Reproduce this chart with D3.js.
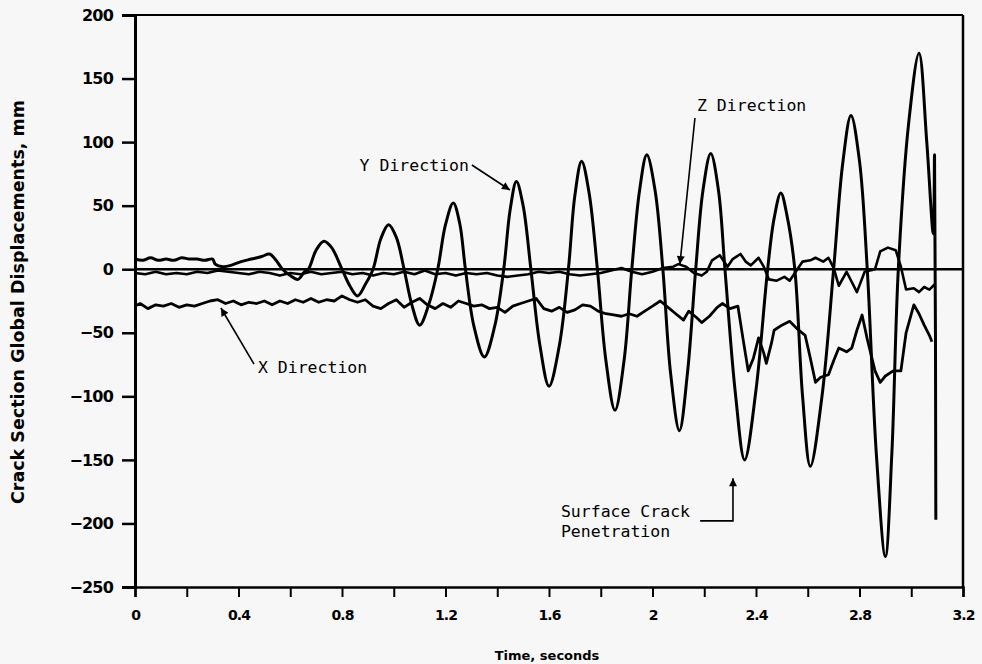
<!DOCTYPE html>
<html>
<head>
<meta charset="utf-8">
<script src="https://cdn.jsdelivr.net/npm/d3@7"></script>
<style>
  body { margin: 0; background: #f7f7f7; }
  svg { display: block; }
  .tick text { font-family: "DejaVu Sans", sans-serif; font-weight: bold; fill: #000; }
  .note { font-family: "DejaVu Sans Mono", monospace; font-size: 16.5px; fill: #000; }
</style>
</head>
<body>
<svg id="chart"></svg>
<script>
// values (time in s, displacement in mm)
var yTicks = [200, 150, 100, 50, 0, -50, -100, -150, -200, -250];
var xTicks = [0, 0.2, 0.4, 0.6, 0.8, 1.0, 1.2, 1.4, 1.6, 1.8, 2.0, 2.2, 2.4, 2.6, 2.8, 3.0, 3.2];
var xLabels = ["0", "", "0.4", "", "0.8", "", "1.2", "", "1.6", "", "2", "", "2.4", "", "2.8", "", "3.2"];

var yDirection = [[0,8],[0.03,7],[0.06,9],[0.09,7],[0.12,8],[0.15,7],[0.18,9],[0.21,8],[0.24,8],[0.27,7],[0.30,8],
  [0.31,4],[0.34,2],[0.37,3],[0.41,6],[0.45,8],[0.49,10],[0.52,12],[0.545,7],[0.57,0],[0.60,-5],[0.63,-8],[0.655,-2],
  [0.67,0],[0.70,15],[0.73,22],[0.76,17],[0.80,0],[0.83,-13],[0.86,-21],[0.89,-12],[0.92,0],[0.95,24],[0.98,35],
  [1.01,25],[1.04,0],[1.07,-28],[1.10,-44],[1.135,-28],[1.17,0],[1.20,35],[1.23,52],[1.255,36],[1.277,0],[1.31,-45],
  [1.35,-69],[1.39,-45],[1.425,0],[1.45,47],[1.474,69],[1.50,50],[1.53,0],[1.565,-60],[1.60,-92],[1.64,-60],[1.675,0],
  [1.70,58],[1.726,85],[1.755,60],[1.787,0],[1.82,-72],[1.855,-111],[1.89,-72],[1.92,0],[1.95,62],[1.978,90],[2.01,62],
  [2.04,0],[2.07,-82],[2.104,-127],[2.135,-82],[2.167,0],[2.195,62],[2.225,91],[2.255,62],[2.28,0],[2.32,-97],
  [2.356,-150],[2.40,-95],[2.445,0],[2.47,40],[2.496,60],[2.52,42],[2.55,0],[2.58,-100],[2.61,-155],[2.655,-100],
  [2.70,0],[2.735,83],[2.767,121],[2.80,85],[2.83,0],[2.865,-145],[2.90,-226],[2.925,-145],[2.95,0],[2.99,115],
  [3.03,170],[3.06,100],[3.085,28],[3.09,90],[3.095,-197]];

var xDirection = [[0,-29],[0.02,-27],[0.05,-31],[0.08,-28],[0.11,-29],[0.14,-27],[0.17,-30],[0.20,-28],[0.23,-29],
  [0.26,-27],[0.29,-25],[0.32,-24],[0.35,-27],[0.38,-25],[0.41,-28],[0.44,-26],[0.47,-27],[0.50,-25],[0.53,-28],
  [0.56,-25],[0.59,-27],[0.62,-24],[0.65,-26],[0.68,-23],[0.71,-26],[0.74,-24],[0.77,-25],[0.80,-21],[0.83,-24],
  [0.86,-26],[0.89,-24],[0.92,-29],[0.95,-31],[0.98,-27],[1.01,-24],[1.04,-30],[1.07,-26],[1.10,-23],[1.13,-28],
  [1.16,-31],[1.19,-27],[1.22,-30],[1.25,-25],[1.28,-27],[1.31,-29],[1.34,-28],[1.37,-31],[1.40,-30],[1.43,-34],
  [1.46,-29],[1.49,-27],[1.52,-25],[1.55,-23],[1.58,-31],[1.61,-33],[1.64,-30],[1.67,-34],[1.70,-32],[1.73,-28],
  [1.76,-29],[1.79,-33],[1.82,-35],[1.85,-36],[1.88,-37],[1.91,-35],[1.94,-37],[1.97,-33],[2.00,-29],[2.03,-25],
  [2.06,-30],[2.09,-35],[2.12,-40],[2.14,-33],[2.17,-38],[2.19,-42],[2.22,-37],[2.25,-30],[2.27,-27],[2.30,-31],
  [2.33,-29],[2.35,-55],[2.37,-80],[2.39,-70],[2.41,-54],[2.43,-66],[2.44,-74],[2.46,-58],[2.47,-48],[2.50,-44],
  [2.53,-41],[2.56,-47],[2.59,-52],[2.61,-70],[2.63,-89],[2.65,-85],[2.68,-83],[2.70,-72],[2.72,-62],[2.75,-65],
  [2.77,-62],[2.79,-48],[2.81,-36],[2.83,-55],[2.86,-80],[2.88,-89],[2.90,-84],[2.93,-80],[2.96,-80],[2.98,-50],
  [3.01,-28],[3.03,-35],[3.05,-44],[3.07,-52],[3.08,-57]];

var zDirection = [[0,-3],[0.04,-4],[0.08,-2],[0.12,-4],[0.16,-3],[0.20,-4],[0.24,-2],[0.28,-3],[0.32,-1],[0.36,-2],
  [0.40,-3],[0.44,-4],[0.48,-2],[0.52,-3],[0.56,-5],[0.60,-3],[0.64,-4],[0.68,-2],[0.72,-4],[0.76,-3],[0.80,-2],
  [0.84,-4],[0.88,-3],[0.92,-5],[0.96,-3],[1.00,-4],[1.04,-2],[1.08,-4],[1.12,-1],[1.16,-4],[1.20,-3],[1.24,-5],
  [1.28,-3],[1.32,-4],[1.36,-3],[1.40,-5],[1.44,-6],[1.48,-5],[1.52,-4],[1.56,-2],[1.60,-3],[1.64,-2],[1.68,-4],
  [1.72,-5],[1.76,-4],[1.80,-3],[1.84,-1],[1.88,1],[1.92,-2],[1.96,-4],[2.00,-2],[2.04,1],[2.08,2],[2.10,4],[2.13,2],
  [2.16,-3],[2.19,-5],[2.21,-2],[2.23,7],[2.26,11],[2.29,2],[2.31,8],[2.34,12],[2.36,6],[2.38,3],[2.41,9],[2.43,2],
  [2.45,-8],[2.48,-9],[2.51,-6],[2.53,-9],[2.56,0],[2.58,6],[2.61,7],[2.63,9],[2.66,6],[2.68,9],[2.70,1],[2.72,-13],
  [2.75,-2],[2.79,-18],[2.82,-2],[2.86,0],[2.88,14],[2.91,17],[2.94,15],[2.96,2],[2.98,-16],[3.01,-15],[3.03,-18],
  [3.05,-14],[3.07,-16],[3.09,-12]];

// annotations: text anchor [t, v] and arrow path [[t, v], ...] (last point = arrow tip)
var notes = [
  { lines: ["Y Direction"], at: [0.868, 77.3], arrow: [[1.302, 82], [1.449, 62.3]] },
  { lines: ["Z Direction"], at: [2.172, 124.5], arrow: [[2.164, 119], [2.106, 4]] },
  { lines: ["X Direction"], at: [0.475, -81.7], arrow: [[0.46, -74.6], [0.332, -30.5]] },
  { lines: ["Surface Crack", "Penetration"], at: [1.646, -195], arrow: [[2.184, -198], [2.311, -198], [2.311, -164.5]] }
];

function chart() {
  var width = 982;
  var height = 664;

  var svg = d3.select("#chart").attr("width", width).attr("height", height);

  var x = d3.scaleLinear().domain([0, 3.2]).range([135, 963]);
  var y = d3.scaleLinear().domain([-250, 200]).range([587, 15]);

  svg.append("defs").append("marker")
    .attr("id", "head")
    .attr("viewBox", "0 0 10 10")
    .attr("refX", 10).attr("refY", 5)
    .attr("markerWidth", 14).attr("markerHeight", 8)
    .attr("markerUnits", "userSpaceOnUse")
    .attr("orient", "auto")
    .append("path").attr("d", "M0,0 L10,5 L0,10 z").attr("fill", "#000");

  // frame (top + right)
  svg.append("line").attr("x1", 122).attr("x2", x(3.2)).attr("y1", y(200)).attr("y2", y(200))
    .attr("stroke", "#000").attr("stroke-width", 2);
  svg.append("line").attr("x1", x(3.2)).attr("x2", x(3.2)).attr("y1", y(200)).attr("y2", y(-250))
    .attr("stroke", "#000").attr("stroke-width", 2.5);

  // zero reference line
  svg.append("line").attr("x1", x(0)).attr("x2", x(3.2)).attr("y1", y(0)).attr("y2", y(0))
    .attr("stroke", "#000").attr("stroke-width", 2.5);

  var yAxis = svg.append("g")
    .attr("transform", "translate(" + x(0) + ",0)")
    .call(d3.axisLeft(y).tickValues(yTicks).tickSize(13).tickPadding(9)
      .tickFormat(function(d) { return d < 0 ? "\u2212" + (-d) : d; }));
  yAxis.select(".domain").attr("stroke-width", 3);
  yAxis.selectAll(".tick line").attr("stroke-width", 2.5);
  yAxis.selectAll(".tick text").style("font-size", "16px").attr("letter-spacing", "-0.8");

  var xAxis = svg.append("g")
    .attr("transform", "translate(0," + y(-250) + ")")
    .call(d3.axisBottom(x).tickValues(xTicks).tickSize(10).tickPadding(13)
      .tickFormat(function(d, i) { return xLabels[i]; }));
  xAxis.select(".domain").attr("stroke-width", 2.5);
  xAxis.selectAll(".tick line").attr("stroke-width", 2);
  xAxis.selectAll(".tick text").style("font-size", "14px").attr("letter-spacing", "-1");

  var line = d3.line()
    .x(function(d) { return x(d[0]); })
    .y(function(d) { return y(d[1]); });

  svg.append("path").datum(xDirection)
    .attr("d", line.curve(d3.curveLinear))
    .attr("fill", "none").attr("stroke", "#000").attr("stroke-width", 2.8).attr("stroke-linejoin", "round");
  svg.append("path").datum(zDirection)
    .attr("d", line.curve(d3.curveLinear))
    .attr("fill", "none").attr("stroke", "#000").attr("stroke-width", 2.6).attr("stroke-linejoin", "round");
  svg.append("path").datum(yDirection)
    .attr("d", line.curve(d3.curveCatmullRom.alpha(0.5)))
    .attr("fill", "none").attr("stroke", "#000").attr("stroke-width", 3).attr("stroke-linejoin", "round");

  // annotations
  var note = svg.selectAll(".noteg").data(notes).enter().append("g").attr("class", "noteg");
  note.each(function(d) {
    var g = d3.select(this);
    d.lines.forEach(function(s, i) {
      g.append("text").attr("class", "note")
        .attr("x", x(d.at[0])).attr("y", y(d.at[1]) + i * 20)
        .text(s);
    });
    g.append("path")
      .attr("d", d3.line().x(function(p) { return x(p[0]); }).y(function(p) { return y(p[1]); })(d.arrow))
      .attr("fill", "none").attr("stroke", "#000").attr("stroke-width", 1.6)
      .attr("marker-end", "url(#head)");
  });

  // axis titles
  svg.append("text")
    .attr("transform", "translate(24," + ((y(200) + y(-250)) / 2 + 1) + ") rotate(-90)")
    .attr("text-anchor", "middle")
    .style("font-family", "DejaVu Sans, sans-serif").style("font-weight", "bold").style("font-size", "17.5px")
    .text("Crack Section Global Displacements, mm");

  svg.append("text")
    .attr("x", (x(0) + x(3.2)) / 2 - 2).attr("y", 660)
    .attr("text-anchor", "middle")
    .style("font-family", "DejaVu Sans, sans-serif").style("font-weight", "bold").style("font-size", "13px")
    .text("Time, seconds");
}

chart();
</script>
</body>
</html>
